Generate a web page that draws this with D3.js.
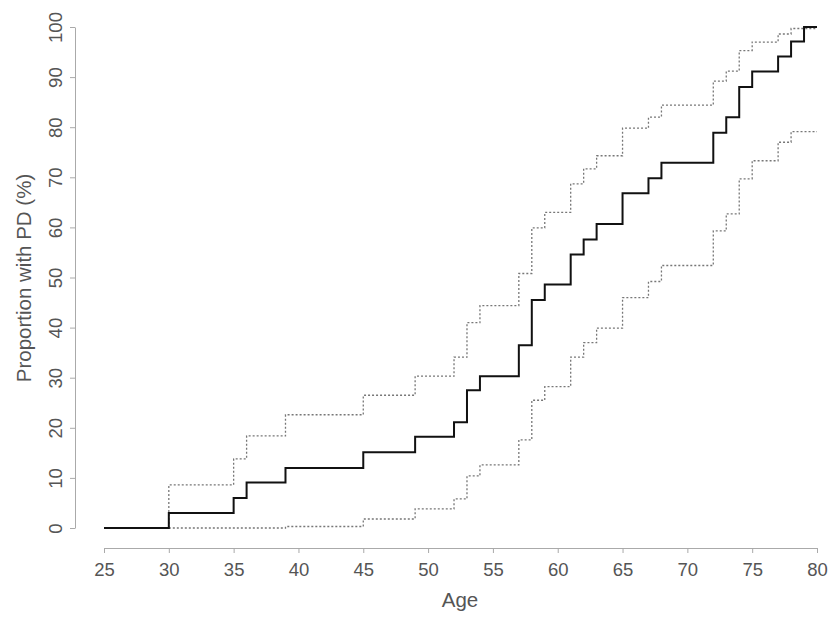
<!DOCTYPE html>
<html>
<head>
<meta charset="utf-8">
<script src="https://cdn.jsdelivr.net/npm/d3@7"></script>
<style>
    body { margin: 0; background: #fff; }
    text { font-family: "Liberation Sans", Arial, sans-serif; }
</style>
</head>
<body>
<div class="visHolder"></div>
<script>
// Kaplan-Meier estimate (solid)
const kmAge = [25, 30, 35, 36, 39, 45, 49, 52, 53, 54, 57, 58, 59, 61, 62, 63, 65, 67, 68, 72, 73, 74, 75, 77, 78, 79, 80];
const kmVal = [0, 3, 6, 9.1, 12, 15.1, 18.2, 21.1, 27.5, 30.3, 36.5, 45.5, 48.6, 54.6, 57.6, 60.7, 66.8, 69.8, 72.9, 78.9, 82, 88, 91.1, 94.1, 97.1, 100, 100];

// upper confidence bound (dotted)
const upperAge = [30, 30, 35, 36, 39, 45, 49, 52, 53, 54, 57, 58, 59, 61, 62, 63, 65, 67, 68, 72, 73, 74, 75, 77, 78, 80];
const upperVal = [0, 8.6, 13.8, 18.4, 22.6, 26.5, 30.3, 34.1, 41, 44.4, 50.8, 59.9, 63, 68.7, 71.7, 74.3, 79.8, 82, 84.4, 89.2, 91.2, 95.3, 97, 98.6, 99.7, 99.7];

// lower confidence bound (dotted)
const lowerAge = [30, 39, 45, 49, 52, 53, 54, 57, 58, 59, 61, 62, 63, 65, 67, 68, 72, 73, 74, 75, 77, 78, 80];
const lowerVal = [0, 0.3, 1.8, 3.8, 5.8, 10.4, 12.6, 17.6, 25.5, 28.2, 34.1, 37, 39.9, 46, 49.2, 52.4, 59.3, 62.7, 69.7, 73.3, 77, 79.1, 79.1];

const xTicks = [25, 30, 35, 40, 45, 50, 55, 60, 65, 70, 75, 80];
const yTicks = [0, 10, 20, 30, 40, 50, 60, 70, 80, 90, 100];

const width = 833;
const height = 618;

const xScale = d3.scaleLinear().domain([25, 80]).range([104, 817]);
const yScale = d3.scaleLinear().domain([0, 100]).range([528, 27]);

const svg = d3.select(".visHolder")
    .append("svg")
    .attr("width", width)
    .attr("height", height);

const line = d3.line()
    .x(d => xScale(d[0]))
    .y(d => yScale(d[1]))
    .curve(d3.curveStepAfter);

const zip = (a, b) => a.map((v, i) => [v, b[i]]);

// Confidence bands first so the estimate sits on top
svg.append("path")
    .datum(zip(lowerAge, lowerVal))
    .attr("d", line)
    .attr("fill", "none")
    .attr("stroke", "#777")
    .attr("stroke-width", 1.3)
    .attr("stroke-dasharray", "2,2");

svg.append("path")
    .datum(zip(upperAge, upperVal))
    .attr("d", line)
    .attr("fill", "none")
    .attr("stroke", "#777")
    .attr("stroke-width", 1.3)
    .attr("stroke-dasharray", "2,2");

svg.append("path")
    .datum(zip(kmAge, kmVal))
    .attr("d", line)
    .attr("fill", "none")
    .attr("stroke", "#111")
    .attr("stroke-width", 2);

// x-axis
const xAxis = svg.append("g")
    .attr("transform", "translate(0, 548)")
    .call(d3.axisBottom(xScale).tickValues(xTicks).tickSize(5).tickSizeOuter(0).tickPadding(10));

// y-axis, labels rotated like base R
const yAxis = svg.append("g")
    .attr("transform", "translate(75, 0)")
    .call(d3.axisLeft(yScale).tickValues(yTicks).tickSize(5).tickSizeOuter(0));

yAxis.selectAll(".tick text")
    .attr("transform", "rotate(-90)")
    .attr("x", 0)
    .attr("y", -13)
    .attr("dy", 0)
    .style("text-anchor", "middle");

[xAxis, yAxis].forEach(ax => {
    ax.select(".domain").attr("stroke", "#aaa");
    ax.selectAll(".tick line").attr("stroke", "#aaa");
    ax.selectAll(".tick text")
        .attr("fill", "#555")
        .style("font-size", "18.5px")
        .style("font-family", "'Liberation Sans', Arial, sans-serif");
});

// Axis titles
svg.append("text")
    .attr("x", 460)
    .attr("y", 607)
    .style("text-anchor", "middle")
    .style("font-size", "20.5px")
    .attr("fill", "#555")
    .text("Age");

svg.append("text")
    .attr("transform", "rotate(-90)")
    .attr("x", -278)
    .attr("y", 31)
    .style("text-anchor", "middle")
    .style("font-size", "20.5px")
    .attr("fill", "#555")
    .text("Proportion with PD (%)");
</script>
</body>
</html>
